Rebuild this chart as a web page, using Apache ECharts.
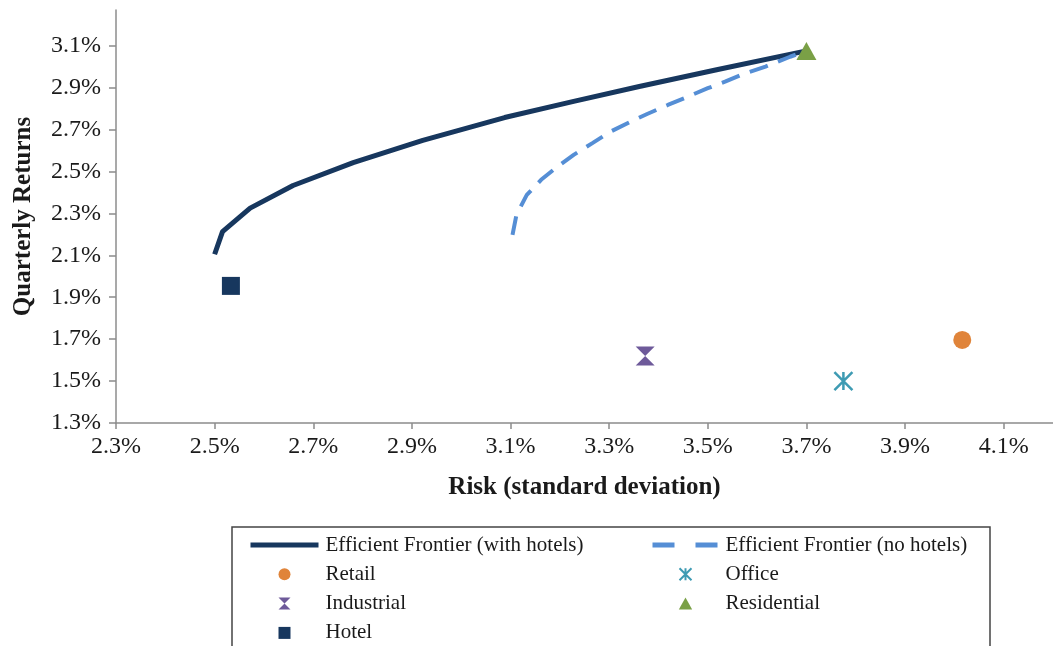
<!DOCTYPE html>
<html>
<head>
<meta charset="utf-8">
<script src="https://cdn.jsdelivr.net/npm/echarts@6/dist/echarts.min.js"></script>
<style>
  html, body { margin: 0; padding: 0; background: #ffffff; }
  #chart { width: 1053px; height: 646px; }
</style>
</head>
<body>
<div id="chart"></div>
<script>
// Risk (std. dev., %) vs. quarterly return (%) pairs
const frontierWithHotels = [
  [2.50, 2.105], [2.516, 2.213], [2.572, 2.325], [2.659, 2.433], [2.781, 2.542],
  [2.922, 2.648], [3.088, 2.757], [3.228, 2.834], [3.361, 2.905], [3.518, 2.985],
  [3.70, 3.075]
];
const frontierNoHotels = [
  [3.104, 2.197], [3.112, 2.293], [3.133, 2.388], [3.162, 2.46], [3.195, 2.523],
  [3.228, 2.579], [3.266, 2.635], [3.303, 2.69], [3.344, 2.738], [3.377, 2.774],
  [3.419, 2.817], [3.46, 2.857], [3.50, 2.897], [3.535, 2.928], [3.576, 2.968],
  [3.617, 3.00], [3.667, 3.047], [3.70, 3.075]
];
const retail = [[4.016, 1.696]];
const office = [[3.775, 1.50]];
const industrial = [[3.373, 1.62]];
const residential = [[3.70, 3.075]];
const hotel = [[2.533, 1.954]];

const xTicks = [2.3, 2.5, 2.7, 2.9, 3.1, 3.3, 3.5, 3.7, 3.9, 4.1];
const yTicks = [1.3, 1.5, 1.7, 1.9, 2.1, 2.3, 2.5, 2.7, 2.9, 3.1];

const serif = '"Liberation Serif", "Times New Roman", serif';
const axisGray = '#8c8c8c';
const ink = '#1a1a1a';
const pct = v => v.toFixed(1) + '%';

const navy = '#17375E';
const lightBlue = '#558ED5';
const orange = '#E0843A';
const teal = '#3E9BB3';
const purple = '#6E5A9A';
const green = '#7AA046';

const symHourglass = 'path://M0,0 L10,0 L5,5 L10,10 L0,10 L5,5 Z';
const symStar = 'path://M0,0 L10,10 M10,0 L0,10 M5,0 L5,10';
const symSquare = 'path://M0,0 L10,0 L10,10 L0,10 Z';
const symTriangle = 'path://M5,0 L10,9 L0,9 Z';

const legendText = { fontFamily: serif, fontSize: 21, color: ink, lineHeight: 22, padding: [0, 0, 0, 2] };

const chart = echarts.init(document.getElementById('chart'));

chart.setOption({
  animation: false,
  backgroundColor: '#ffffff',
  textStyle: { fontFamily: serif },
  grid: { left: 116, right: 0, top: 10, bottom: 223, outerBoundsMode: 'none', containLabel: false },
  xAxis: {
    type: 'value',
    min: 2.3,
    max: 4.2,
    name: 'Risk (standard deviation)',
    nameLocation: 'middle',
    nameGap: 52,
    nameTextStyle: { fontFamily: serif, fontWeight: 'bold', fontSize: 25, color: ink },
    axisLine: { show: true, lineStyle: { color: axisGray, width: 1.5 } },
    axisTick: { show: true, length: 6, lineStyle: { color: axisGray, width: 1.5 }, customValues: xTicks },
    axisLabel: { fontFamily: serif, fontSize: 24, color: ink, margin: 12, formatter: pct, customValues: xTicks },
    splitLine: { show: false }
  },
  yAxis: {
    type: 'value',
    min: 1.3,
    max: 3.27,
    name: 'Quarterly Returns',
    nameLocation: 'middle',
    nameGap: 80,
    nameRotate: 90,
    nameTextStyle: { fontFamily: serif, fontWeight: 'bold', fontSize: 25, color: ink },
    axisLine: { show: true, lineStyle: { color: axisGray, width: 1.5 } },
    axisTick: { show: true, length: 7, lineStyle: { color: axisGray, width: 1.5 }, customValues: yTicks },
    axisLabel: { fontFamily: serif, fontSize: 24, color: ink, margin: 15, formatter: pct, customValues: yTicks },
    splitLine: { show: false }
  },
  legend: [
    {
      orient: 'vertical', left: 243, top: 529, height: 200, itemGap: 7.3,
      itemWidth: 68, itemHeight: 12,
      textStyle: legendText,
      data: [
        { name: 'Efficient Frontier (with hotels)', lineStyle: { width: 5 }, itemStyle: { opacity: 0 } },
        { name: 'Retail', icon: 'circle' },
        { name: 'Industrial', icon: symHourglass },
        { name: 'Hotel', icon: symSquare }
      ]
    },
    {
      orient: 'vertical', left: 645, top: 529, height: 200, itemGap: 7.3,
      itemWidth: 66, itemHeight: 12,
      textStyle: legendText,
      data: [
        { name: 'Efficient Frontier (no hotels)', lineStyle: { width: 5, type: [22, 21] }, itemStyle: { opacity: 0 } },
        { name: 'Office', icon: symStar },
        { name: 'Residential', icon: symTriangle }
      ]
    }
  ],
  graphic: [{
    type: 'rect',
    shape: { x: 232, y: 527, width: 758, height: 140 },
    style: { fill: 'none', stroke: '#444444', lineWidth: 1.5 },
    silent: true
  }],
  series: [
    {
      name: 'Efficient Frontier (with hotels)', type: 'line', data: frontierWithHotels,
      symbol: 'none', lineStyle: { color: navy, width: 5 }, itemStyle: { color: navy }, z: 2
    },
    {
      name: 'Efficient Frontier (no hotels)', type: 'line', data: frontierNoHotels,
      symbol: 'none', lineStyle: { color: lightBlue, width: 4, type: [19, 11] }, itemStyle: { color: lightBlue }, z: 2
    },
    {
      name: 'Retail', type: 'scatter', data: retail, symbol: 'circle', symbolSize: 18,
      itemStyle: { color: orange, opacity: 1 }, z: 3
    },
    {
      name: 'Office', type: 'scatter', data: office, symbol: symStar, symbolSize: [18, 18],
      itemStyle: { color: 'none', borderColor: teal, borderWidth: 2.5, opacity: 1 }, z: 3
    },
    {
      name: 'Industrial', type: 'scatter', data: industrial, symbol: symHourglass, symbolSize: [19, 19],
      itemStyle: { color: purple, opacity: 1 }, z: 3
    },
    {
      name: 'Residential', type: 'scatter', data: residential, symbol: 'triangle', symbolSize: [20, 18],
      itemStyle: { color: green, opacity: 1 }, z: 4
    },
    {
      name: 'Hotel', type: 'scatter', data: hotel, symbol: 'rect', symbolSize: 18,
      itemStyle: { color: navy, opacity: 1 }, z: 3
    }
  ]
});
</script>
</body>
</html>
